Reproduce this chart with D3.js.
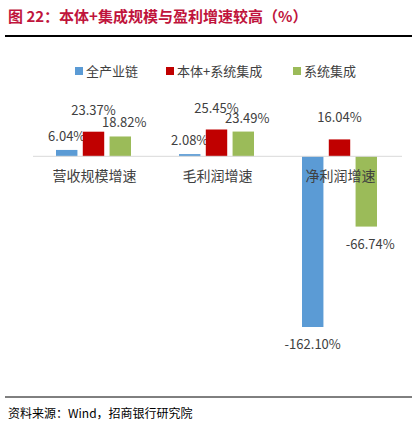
<!DOCTYPE html>
<html>
<head>
<meta charset="utf-8">
<script src="https://cdn.jsdelivr.net/npm/d3@7"></script>
<style>body{margin:0;background:#fff;font-family:"Noto Sans CJK SC","Liberation Sans",sans-serif;}</style>
</head>
<body>
<svg width="417" height="427"></svg>
<script>
var categories = ["营收规模增速", "毛利润增速", "净利润增速"];
var seriesNames = ["全产业链", "本体+系统集成", "系统集成"];
var colors = ["#5b9bd5", "#c00000", "#9bbb59"];
var allChain = [6.04, 2.08, -162.10];
var bodyInteg = [23.37, 25.45, 16.04];
var integOnly = [18.82, 23.49, -66.74];
var series = [allChain, bodyInteg, integOnly];
var labelGap = [9, 17, 9];
var labelShift = [0, 0, 4];

var svg = d3.select("svg");
svg.append("text").attr("x", 8).attr("y", 22).attr("fill", "#c0143c")
  .style("font-size", "15px").style("font-weight", "bold")
  .text("图 22：本体+集成规模与盈利增速较高（%）");
svg.append("line").attr("x1", 5).attr("x2", 412).attr("y1", 36).attr("y2", 36)
  .attr("stroke", "#000").attr("stroke-width", 2);

// legend
var legX = [75, 166, 293];
seriesNames.forEach(function (n, i) {
  svg.append("rect").attr("x", legX[i]).attr("y", 67).attr("width", 8).attr("height", 8).attr("fill", colors[i]);
  svg.append("text").attr("x", legX[i] + 11).attr("y", 76).style("font-size", "13px").attr("fill", "#404040").text(n);
});

var x = d3.scaleBand().domain(categories).range([33, 402]);
var xs = d3.scaleBand().domain([0, 1, 2]).range([0, 75]).paddingInner(0.2);
var y = d3.scaleLinear().domain([-162.1, 25.45]).range([327, 129.5]);

series.forEach(function (vals, s) {
  svg.append("g").selectAll("rect").data(vals).enter().append("rect")
    .attr("x", function (d, i) { return x(categories[i]) + 23 + xs(s); })
    .attr("y", function (d) { return y(Math.max(0, d)); })
    .attr("width", xs.bandwidth())
    .attr("height", function (d) { return Math.abs(y(d) - y(0)); })
    .attr("fill", colors[s]);
  svg.append("g").selectAll("text").data(vals).enter().append("text")
    .attr("x", function (d, i) { return x(categories[i]) + 23 + xs(s) + xs.bandwidth() / 2 + labelShift[s]; })
    .attr("y", function (d) { return d >= 0 ? y(d) - labelGap[s] : y(d) + 22; })
    .attr("text-anchor", "middle").style("font-size", "13px").attr("fill", "#404040")
    .text(function (d) { return d.toFixed(2) + "%"; });
});

svg.append("line").attr("x1", 33).attr("x2", 402).attr("y1", y(0)).attr("y2", y(0))
  .attr("stroke", "#d9d9d9").attr("stroke-width", 1);

svg.append("g").selectAll("text").data(categories).enter().append("text")
  .attr("x", function (d) { return x(d) + x.bandwidth() / 2; })
  .attr("y", 181).attr("text-anchor", "middle").style("font-size", "14px").attr("fill", "#404040")
  .text(function (d) { return d; });

svg.append("line").attr("x1", 5).attr("x2", 412).attr("y1", 397).attr("y2", 397)
  .attr("stroke", "#000").attr("stroke-width", 1);
svg.append("text").attr("x", 8).attr("y", 418).style("font-size", "12px").attr("fill", "#000")
  .text("资料来源：Wind，招商银行研究院");
</script>
</body>
</html>
